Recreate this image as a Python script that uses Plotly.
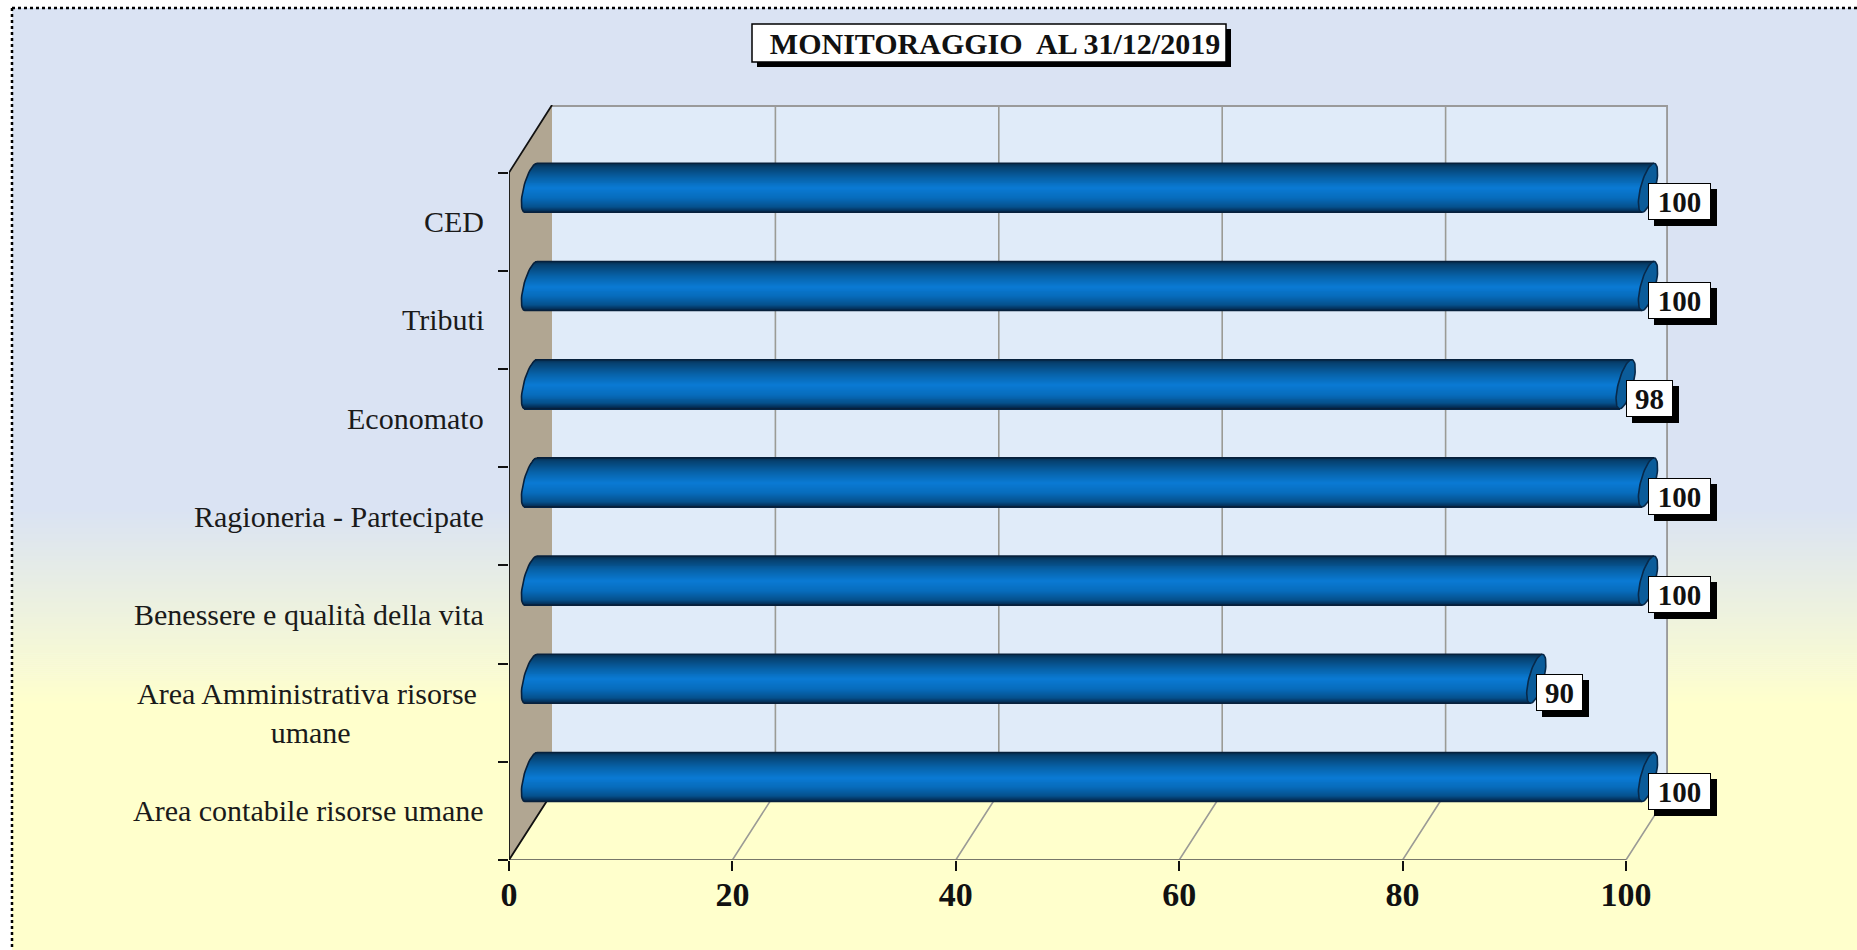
import numpy as np
import plotly.graph_objects as go

# ---- data (bottom to top) ----
categories = ["Area contabile risorse umane", "Area Amministrativa risorse\u00a0<br>umane",
              "Benessere e qualità della vita", "Ragioneria - Partecipate",
              "Economato", "Tributi", "CED"]
values = [100, 90, 100, 100, 98, 100, 100]
x_ticks = [0, 20, 40, 60, 80, 100]
title_text = "MONITORAGGIO\u00a0 AL 31/12/2019"

W, H = 1857, 950
SERIF = "Liberation Serif"
PX_X = 11.17      # pixels per value unit
PX_Y = 98.2       # pixels per category slot
LEFT, RIGHT, TOP, BOTTOM = 509, 1668, 105, 860
DX, DY = 43 / PX_X, 67 / PX_Y      # depth of the 3D box, in axis units
XMAX = (RIGHT - LEFT) / PX_X
YMAX = -0.5 + (BOTTOM - TOP) / PX_Y
FRONT_TOP = len(values) - 0.5

BAR_DX, BAR_CY = 531 - LEFT, 777   # bar zero and first-bar centre, in pixels
BAR_B, ELL_A, ELL_S = 24.5, 7.5, 6   # cylinder half height, ellipse half width, shear


def hex_rgb(c):
    return np.array([int(c[i:i + 2], 16) for i in (1, 3, 5)], dtype=float)


def mix(c0, c1, f):
    r = hex_rgb(c0) * (1 - f) + hex_rgb(c1) * f
    return "rgb(%d,%d,%d)" % tuple(r.round())


shapes = []
# page background with its vertical fade
BG_TOP, BG_BOT = "#dae3f3", "#ffffcc"
FADE0, FADE1 = 510, 705


def paper_rect(x0, y0, x1, y1, color, line=None):
    shapes.append(dict(type="rect", xref="paper", yref="paper", layer="below",
                       x0=x0 / W, x1=x1 / W, y0=1 - y0 / H, y1=1 - y1 / H,
                       fillcolor=color, line=line or dict(width=0)))


paper_rect(12, 8, W, FADE0, BG_TOP)
paper_rect(12, FADE1, W, H, BG_BOT)
n_fade = 98
for i in range(n_fade):
    y0 = FADE0 + (FADE1 - FADE0) * i / n_fade
    y1 = FADE0 + (FADE1 - FADE0) * (i + 1) / n_fade
    paper_rect(12, y0, W, y1 + 0.6, mix(BG_TOP, BG_BOT, (i + 0.5) / n_fade))

# dotted page frame
for (x0, y0, x1, y1) in [(12, 8, W, 8), (12, 8, 12, H)]:
    shapes.append(dict(type="line", xref="paper", yref="paper", layer="below",
                       x0=x0 / W, x1=x1 / W, y0=1 - y0 / H, y1=1 - y1 / H,
                       line=dict(color="#000000", width=2.5, dash="dot")))

# title plate with shadow
paper_rect(757, 29, 1231, 67, "#000000")
paper_rect(752, 24, 1226, 62, "#ffffff", dict(color="#000000", width=1.5))

fig = go.Figure()
no = dict(showlegend=False, hoverinfo="skip")

# back wall and side wall
fig.add_trace(go.Scatter(x=[DX, XMAX, XMAX, DX, DX], y=[-0.5 + DY, -0.5 + DY, YMAX, YMAX, -0.5 + DY],
                         fill="toself", fillcolor="#e0ebf9", mode="lines",
                         line=dict(color="rgba(0,0,0,0)", width=0), **no))
fig.add_trace(go.Scatter(x=[0, DX, DX, 0, 0], y=[-0.5, -0.5 + DY, YMAX, FRONT_TOP, -0.5],
                         fill="toself", fillcolor="#b1a692", mode="lines",
                         line=dict(color="rgba(0,0,0,0)", width=0), **no))
# wall grid, frame and floor grid
gx, gy = [], []
for v in x_ticks[1:]:
    gx += [v, v + DX, v + DX, None]
    gy += [-0.5, -0.5 + DY, YMAX, None]
fig.add_trace(go.Scatter(x=gx, y=gy, mode="lines", line=dict(color="#9b9b96", width=1.6), **no))
fig.add_trace(go.Scatter(x=[DX, XMAX - 0.07, XMAX - 0.07], y=[YMAX - 0.01, YMAX - 0.01, -0.5 + DY],
                         mode="lines", line=dict(color="#9a9a9a", width=2.2), **no))
fig.add_trace(go.Scatter(x=[0, x_ticks[-1]], y=[-0.5, -0.5], mode="lines",
                         line=dict(color="#77776a", width=2.2), cliponaxis=False, **no))
fig.add_trace(go.Scatter(x=[DX, 0, 0, DX], y=[YMAX, FRONT_TOP, -0.5, -0.5 + DY], mode="lines",
                         line=dict(color="#111111", width=1.8), cliponaxis=False, **no))

# cylinders: stacked thin bars following the ellipse at each end
stops = [(0.0, "#052846"), (0.08, "#06406f"), (0.3, "#0762a8"), (0.52, "#0a7ad4"),
         (0.72, "#076cbc"), (0.9, "#05508c"), (1.0, "#04264a")]


def ramp(f):
    for (f0, c0), (f1, c1) in zip(stops, stops[1:]):
        if f <= f1:
            return mix(c0, c1, (f - f0) / (f1 - f0))
    return stops[-1][1]


N = 50
vals = np.array(values, dtype=float)
pos = np.arange(len(vals), dtype=float)
for i in range(N):
    t = 1 - (i + 0.5) / N * 2              # +1 at the top, -1 at the bottom
    left = (ELL_S * t - ELL_A * np.sqrt(1 - t * t)) / PX_X
    right = vals + ELL_S * t / PX_X
    fig.add_trace(go.Bar(y=pos + t * BAR_B / PX_Y, x=right - left, base=[left] * len(vals),
                         orientation="h", width=(2 * BAR_B / N + 0.8) / PX_Y,
                         marker=dict(color=ramp((i + 0.5) / N), line=dict(width=0)),
                         xaxis="x2", yaxis="y2", **no))

# outlines and end caps
th = np.linspace(0, 2 * np.pi, 61)
ox, oy = [], []
for k, v in zip(pos, vals):
    a = np.linspace(np.pi / 2, 3 * np.pi / 2, 25)
    ox += list((ELL_S * np.sin(a) + ELL_A * np.cos(a)) / PX_X) + [v - ELL_S / PX_X, None]
    oy += list(k + BAR_B * np.sin(a) / PX_Y) + [k - BAR_B / PX_Y, None]
    ox += [ELL_S / PX_X, v + ELL_S / PX_X, None]
    oy += [k + BAR_B / PX_Y, k + BAR_B / PX_Y, None]
    fig.add_trace(go.Scatter(x=v + (ELL_A * np.cos(th) + ELL_S * np.sin(th)) / PX_X,
                             y=k + BAR_B * np.sin(th) / PX_Y, fill="toself", fillcolor="#0b5c9a",
                             mode="lines", line=dict(color="#08294a", width=1.6),
                             xaxis="x2", yaxis="y2", **no))
fig.add_trace(go.Scatter(x=ox, y=oy, mode="lines", line=dict(color="#07203c", width=1.6),
                         xaxis="x2", yaxis="y2", **no))

annotations = []
# category labels
for k, c in enumerate(categories):
    annotations.append(dict(xref="x", yref="y", x=0, y=k, xanchor="right", yanchor="middle",
                            xshift=-23, text=c, showarrow=False, align="center",
                            font=dict(family=SERIF, size=30, color="#1a1a1a")))
# value plates: shadow then plate
for k, v in zip(pos, values):
    txt = str(v)
    w = 9 + 16 * len(txt)
    for is_shadow in (True, False):
        annotations.append(dict(
            xref="x2", yref="y2", x=v, y=k, xanchor="left", yanchor="middle",
            xshift=6 if is_shadow else 0, yshift=-20 if is_shadow else -14,
            text="\u00a0" if is_shadow else txt, showarrow=False, width=w, height=31,
            bgcolor="#000000" if is_shadow else "#ffffff", bordercolor="#000000", borderwidth=1,
            borderpad=2, font=dict(family=SERIF, size=29, weight="bold", color="#111111")))

fig.update_layout(
    width=W, height=H, autosize=False, margin=dict(l=0, r=0, t=0, b=0, pad=0, autoexpand=False),
    paper_bgcolor="#ffffff", plot_bgcolor="rgba(0,0,0,0)", barmode="overlay", bargap=0,
    shapes=shapes, annotations=annotations, showlegend=False,
    title=dict(text=title_text, x=995 / W, xanchor="center", xref="paper",
               y=1 - 43 / H, yanchor="middle", yref="paper",
               font=dict(family=SERIF, size=30, weight="bold", color="#111111")),
    xaxis=dict(domain=[LEFT / W, RIGHT / W], range=[0, XMAX], tickmode="array", tickvals=x_ticks,
               ticks="outside", ticklen=10, tickcolor="#111111", tickwidth=1.5, showgrid=False,
               zeroline=False, showline=False, ticklabelstandoff=-6,
               tickfont=dict(family=SERIF, size=34, weight="bold", color="#111111"),
               tickangle=0, anchor="y", fixedrange=True),
    yaxis=dict(domain=[1 - BOTTOM / H, 1 - TOP / H], range=[-0.5, YMAX], tickmode="array",
               tickvals=[k - 0.5 for k in range(len(values) + 1)], showticklabels=False,
               ticks="outside", ticklen=10, tickcolor="#111111", tickwidth=1.5, showgrid=False,
               zeroline=False, showline=False, anchor="x", fixedrange=True),
    xaxis2=dict(overlaying="x", anchor="y2", domain=[LEFT / W, RIGHT / W], visible=False,
                range=[-BAR_DX / PX_X, (RIGHT - LEFT - BAR_DX) / PX_X], fixedrange=True),
    yaxis2=dict(overlaying="y", anchor="x2", domain=[1 - BOTTOM / H, 1 - TOP / H], visible=False,
                range=[-(BOTTOM - BAR_CY) / PX_Y, (BAR_CY - TOP) / PX_Y], fixedrange=True),
)

fig.write_html("out.html", config=dict(displayModeBar=False),
               post_script="document.body.style.margin='0';document.body.style.overflow='hidden';")
